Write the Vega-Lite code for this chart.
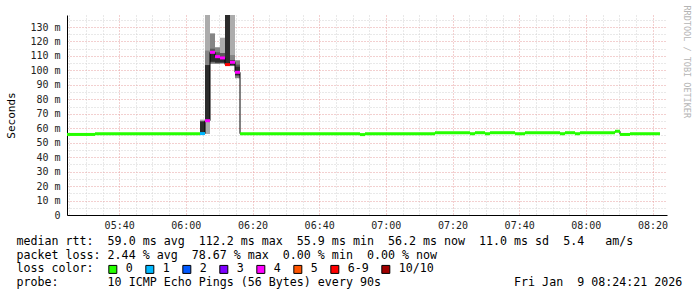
{
  "$schema": "https://vega.github.io/schema/vega-lite/v6.json",
  "width": 600,
  "height": 200,
  "autosize": {"type": "none"},
  "padding": {"left": 67, "top": 15, "right": 30, "bottom": 82},
  "background": "white",
  "config": {"view": {"stroke": null}, "font": "DejaVu Sans Mono"},
  "datasets": {
    "median": [
      {"t": "2026-01-09T05:24:21Z", "t2": "2026-01-09T05:32:45Z", "median": 55.7, "loss": "0"},
      {"t": "2026-01-09T05:32:45Z", "t2": "2026-01-09T06:04:15Z", "median": 56.2, "loss": "0"},
      {"t": "2026-01-09T06:04:15Z", "t2": "2026-01-09T06:05:45Z", "median": 56.3, "loss": "1"},
      {"t": "2026-01-09T06:05:45Z", "t2": "2026-01-09T06:07:15Z", "median": 65.2, "loss": "4"},
      {"t": "2026-01-09T06:07:15Z", "t2": "2026-01-09T06:08:45Z", "median": 112.5, "loss": "4"},
      {"t": "2026-01-09T06:08:45Z", "t2": "2026-01-09T06:10:15Z", "median": 109.5, "loss": "4"},
      {"t": "2026-01-09T06:10:15Z", "t2": "2026-01-09T06:11:45Z", "median": 108.6, "loss": "4"},
      {"t": "2026-01-09T06:11:45Z", "t2": "2026-01-09T06:13:15Z", "median": 104.0, "loss": "6-9"},
      {"t": "2026-01-09T06:13:15Z", "t2": "2026-01-09T06:14:45Z", "median": 105.6, "loss": "4"},
      {"t": "2026-01-09T06:14:45Z", "t2": "2026-01-09T06:16:15Z", "median": 98.7, "loss": "4"},
      {"t": "2026-01-09T06:16:15Z", "t2": "2026-01-09T06:52:15Z", "median": 56.2, "loss": "0"},
      {"t": "2026-01-09T06:52:15Z", "t2": "2026-01-09T06:53:45Z", "median": 55.6, "loss": "0"},
      {"t": "2026-01-09T06:53:45Z", "t2": "2026-01-09T07:14:45Z", "median": 56.2, "loss": "0"},
      {"t": "2026-01-09T07:14:45Z", "t2": "2026-01-09T07:25:15Z", "median": 56.9, "loss": "0"},
      {"t": "2026-01-09T07:25:15Z", "t2": "2026-01-09T07:26:45Z", "median": 56.2, "loss": "0"},
      {"t": "2026-01-09T07:26:45Z", "t2": "2026-01-09T07:29:45Z", "median": 56.9, "loss": "0"},
      {"t": "2026-01-09T07:29:45Z", "t2": "2026-01-09T07:31:15Z", "median": 56.2, "loss": "0"},
      {"t": "2026-01-09T07:31:15Z", "t2": "2026-01-09T07:38:45Z", "median": 56.9, "loss": "0"},
      {"t": "2026-01-09T07:38:45Z", "t2": "2026-01-09T07:41:45Z", "median": 56.2, "loss": "0"},
      {"t": "2026-01-09T07:41:45Z", "t2": "2026-01-09T07:52:15Z", "median": 56.9, "loss": "0"},
      {"t": "2026-01-09T07:52:15Z", "t2": "2026-01-09T07:53:45Z", "median": 56.2, "loss": "0"},
      {"t": "2026-01-09T07:53:45Z", "t2": "2026-01-09T07:56:45Z", "median": 56.9, "loss": "0"},
      {"t": "2026-01-09T07:56:45Z", "t2": "2026-01-09T07:58:15Z", "median": 56.2, "loss": "0"},
      {"t": "2026-01-09T07:58:15Z", "t2": "2026-01-09T08:08:45Z", "median": 56.9, "loss": "0"},
      {"t": "2026-01-09T08:08:45Z", "t2": "2026-01-09T08:10:15Z", "median": 57.9, "loss": "0"},
      {"t": "2026-01-09T08:10:15Z", "t2": "2026-01-09T08:13:15Z", "median": 55.7, "loss": "0"},
      {"t": "2026-01-09T08:13:15Z", "t2": "2026-01-09T08:22:15Z", "median": 56.2, "loss": "0"}
    ],
    "smoke": [
      {"t": "2026-01-09T06:04:15Z", "t2": "2026-01-09T06:05:45Z", "lo": 56.0, "hi": 66.0, "shade": "a"},
      {"t": "2026-01-09T06:04:15Z", "t2": "2026-01-09T06:05:45Z", "lo": 56.6, "hi": 64.8, "shade": "d"},
      {"t": "2026-01-09T06:05:45Z", "t2": "2026-01-09T06:07:15Z", "lo": 56.0, "hi": 139.0, "shade": "a"},
      {"t": "2026-01-09T06:05:45Z", "t2": "2026-01-09T06:07:15Z", "lo": 103.7, "hi": 113.7, "shade": "b"},
      {"t": "2026-01-09T06:05:45Z", "t2": "2026-01-09T06:07:15Z", "lo": 65.5, "hi": 103.7, "shade": "d"},
      {"t": "2026-01-09T06:07:15Z", "t2": "2026-01-09T06:08:45Z", "lo": 104.5, "hi": 125.6, "shade": "b"},
      {"t": "2026-01-09T06:07:15Z", "t2": "2026-01-09T06:08:45Z", "lo": 105.5, "hi": 115.0, "shade": "c"},
      {"t": "2026-01-09T06:07:15Z", "t2": "2026-01-09T06:08:45Z", "lo": 106.0, "hi": 111.8, "shade": "d"},
      {"t": "2026-01-09T06:08:45Z", "t2": "2026-01-09T06:10:15Z", "lo": 104.5, "hi": 116.0, "shade": "b"},
      {"t": "2026-01-09T06:08:45Z", "t2": "2026-01-09T06:10:15Z", "lo": 105.0, "hi": 112.5, "shade": "c"},
      {"t": "2026-01-09T06:08:45Z", "t2": "2026-01-09T06:10:15Z", "lo": 105.5, "hi": 108.5, "shade": "d"},
      {"t": "2026-01-09T06:10:15Z", "t2": "2026-01-09T06:11:45Z", "lo": 104.5, "hi": 122.6, "shade": "a"},
      {"t": "2026-01-09T06:10:15Z", "t2": "2026-01-09T06:11:45Z", "lo": 105.0, "hi": 112.0, "shade": "c"},
      {"t": "2026-01-09T06:10:15Z", "t2": "2026-01-09T06:11:45Z", "lo": 105.5, "hi": 108.0, "shade": "d"},
      {"t": "2026-01-09T06:11:45Z", "t2": "2026-01-09T06:13:15Z", "lo": 103.5, "hi": 139.0, "shade": "d"},
      {"t": "2026-01-09T06:13:15Z", "t2": "2026-01-09T06:14:45Z", "lo": 103.0, "hi": 139.0, "shade": "a"},
      {"t": "2026-01-09T06:13:15Z", "t2": "2026-01-09T06:14:45Z", "lo": 103.0, "hi": 110.6, "shade": "b"},
      {"t": "2026-01-09T06:13:15Z", "t2": "2026-01-09T06:14:45Z", "lo": 103.5, "hi": 107.0, "shade": "d"},
      {"t": "2026-01-09T06:14:45Z", "t2": "2026-01-09T06:16:15Z", "lo": 94.6, "hi": 107.0, "shade": "b"},
      {"t": "2026-01-09T06:14:45Z", "t2": "2026-01-09T06:16:15Z", "lo": 96.0, "hi": 104.0, "shade": "c"},
      {"t": "2026-01-09T06:14:45Z", "t2": "2026-01-09T06:16:15Z", "lo": 96.8, "hi": 102.5, "shade": "d"}
    ]
  },
  "encoding": {
    "x": {
      "field": "t",
      "type": "temporal",
      "scale": {
        "type": "utc",
        "domain": [
          {"year": 2026, "month": 1, "date": 9, "hours": 5, "minutes": 24, "seconds": 21, "utc": true},
          {"year": 2026, "month": 1, "date": 9, "hours": 8, "minutes": 24, "seconds": 21, "utc": true}
        ]
      },
      "axis": {
        "title": [
          "median rtt:\u00a0\u00a059.0 ms avg\u00a0\u00a0112.2 ms max\u00a0\u00a055.9 ms min\u00a0\u00a056.2 ms now\u00a0\u00a011.0 ms sd\u00a0\u00a05.4\u00a0\u00a0\u00a0am/s",
          "packet loss: 2.44 % avg\u00a0\u00a078.67 % max\u00a0\u00a00.00 % min\u00a0\u00a00.00 % now",
          "loss color:",
          "probe:\u00a0\u00a0\u00a0\u00a0\u00a0\u00a0\u00a010 ICMP Echo Pings (56 Bytes) every 90s\u00a0\u00a0\u00a0\u00a0\u00a0\u00a0\u00a0\u00a0\u00a0\u00a0\u00a0\u00a0\u00a0\u00a0\u00a0\u00a0\u00a0\u00a0\u00a0Fri Jan\u00a0\u00a09 08:24:21 2026"
        ],
        "titleFont": "DejaVu Sans Mono",
        "titleFontSize": 11.65,
        "titleFontWeight": "normal",
        "titleColor": "#000000",
        "titleAlign": "left",
        "titleBaseline": "top",
        "titleX": -51,
        "titleY": 20.7,
        "titleLineHeight": 13.45,
        "values": [1767936300000, 1767936600000, 1767936900000, 1767937200000, 1767937500000, 1767937800000, 1767938100000, 1767938400000, 1767938700000, 1767939000000, 1767939300000, 1767939600000, 1767939900000, 1767940200000, 1767940500000, 1767940800000, 1767941100000, 1767941400000, 1767941700000, 1767942000000, 1767942300000, 1767942600000, 1767942900000, 1767943200000, 1767943500000, 1767943800000, 1767944100000, 1767944400000, 1767944700000, 1767945000000, 1767945300000, 1767945600000, 1767945900000, 1767946200000, 1767946500000, 1767946800000],
        "grid": true,
        "gridColor": {"condition": {"test": "utcminutes(datum.value) % 20 === 0", "value": "#e6a0a0"}, "value": "#d2d2d2"},
        "gridDash": [1, 2],
        "ticks": false,
        "domainColor": "#000000",
        "labelExpr": "utcminutes(datum.value) % 20 === 0 ? utcFormat(datum.value, '%H:%M') : ''",
        "labelFont": "DejaVu Sans Mono",
        "labelFontSize": 10,
        "labelColor": "#222222",
        "labelPadding": 5,
        "labelOverlap": false,
        "labelFlush": false
      }
    }
  },
  "layer": [
    {
      "data": {"name": "smoke"},
      "mark": {"type": "rect", "clip": true},
      "encoding": {
        "x2": {"field": "t2"},
        "y": {
          "field": "lo",
          "type": "quantitative",
          "scale": {"domain": [0, 138.3], "nice": false},
          "axis": {
            "values": [0, 5, 10, 15, 20, 25, 30, 35, 40, 45, 50, 55, 60, 65, 70, 75, 80, 85, 90, 95, 100, 105, 110, 115, 120, 125, 130, 135],
            "title": "Seconds",
            "titleFont": "DejaVu Sans Mono",
            "titleFontSize": 11,
            "titleFontWeight": "normal",
            "titleColor": "#000000",
            "titlePadding": 13,
            "grid": true,
            "gridColor": {"condition": {"test": "datum.value % 10 === 0", "value": "#e6a0a0"}, "value": "#d2d2d2"},
            "gridDash": [1, 2],
            "ticks": false,
            "domainColor": "#000000",
            "labelExpr": "datum.value % 10 === 0 ? (datum.value === 0 ? '0\u00a0\u00a0' : datum.value + '\u00a0m') : ''",
            "labelFont": "DejaVu Sans Mono",
            "labelFontSize": 10,
            "labelColor": "#222222",
            "labelPadding": 7,
            "labelOverlap": false,
            "labelFlush": false
          }
        },
        "y2": {"field": "hi"},
        "fill": {
          "field": "shade",
          "type": "nominal",
          "scale": {"domain": ["a", "b", "c", "d"], "range": ["#acacac", "#858585", "#5a5a5a", "#2c2c2c"]},
          "legend": null
        }
      }
    },
    {
      "data": {"name": "median"},
      "mark": {"type": "line", "interpolate": "step-after", "color": "#000000", "strokeWidth": 1, "clip": true},
      "encoding": {
        "y": {
          "field": "median",
          "type": "quantitative",
          "scale": {"domain": [0, 138.3], "nice": false},
          "axis": {
            "orient": "right",
            "title": "RRDTOOL / TOBI OETIKER",
            "titleAngle": 90,
            "titleColor": "#b4b4b4",
            "titleFont": "DejaVu Sans Mono",
            "titleFontSize": 8.5,
            "titleFontWeight": "normal",
            "titleAlign": "left",
            "titleBaseline": "middle",
            "titleX": 19,
            "titleY": -10,
            "labels": false,
            "ticks": false,
            "domain": false,
            "grid": false
          }
        }
      }
    },
    {
      "data": {"name": "median"},
      "mark": {"type": "rect", "yOffset": 1.5, "y2Offset": -1.5, "clip": true},
      "encoding": {
        "x2": {"field": "t2"},
        "y": {
          "field": "median",
          "type": "quantitative",
          "scale": {"domain": [0, 138.3], "nice": false},
          "axis": null
        },
        "y2": {"field": "median"},
        "color": {
          "field": "loss",
          "type": "nominal",
          "scale": {
            "domain": ["0", "1", "2", "3", "4", "5", "6-9", "10/10"],
            "range": ["#26ff00", "#00b8ff", "#0059ff", "#7e00ff", "#ff00ff", "#ff5500", "#ff0000", "#a10000"]
          },
          "legend": {
            "orient": "none",
            "legendX": 40,
            "legendY": 248.5,
            "padding": 0,
            "direction": "horizontal",
            "title": null,
            "labelFont": "DejaVu Sans Mono",
            "labelFontSize": 11.65,
            "labelColor": "#000000",
            "labelOffset": 7,
            "columnPadding": 10,
            "symbolType": "square",
            "symbolSize": 64,
            "symbolOpacity": 1,
            "symbolStrokeColor": "#000000",
            "symbolStrokeWidth": 1
          }
        }
      }
    }
  ],
  "resolve": {"axis": {"y": "independent"}}
}
